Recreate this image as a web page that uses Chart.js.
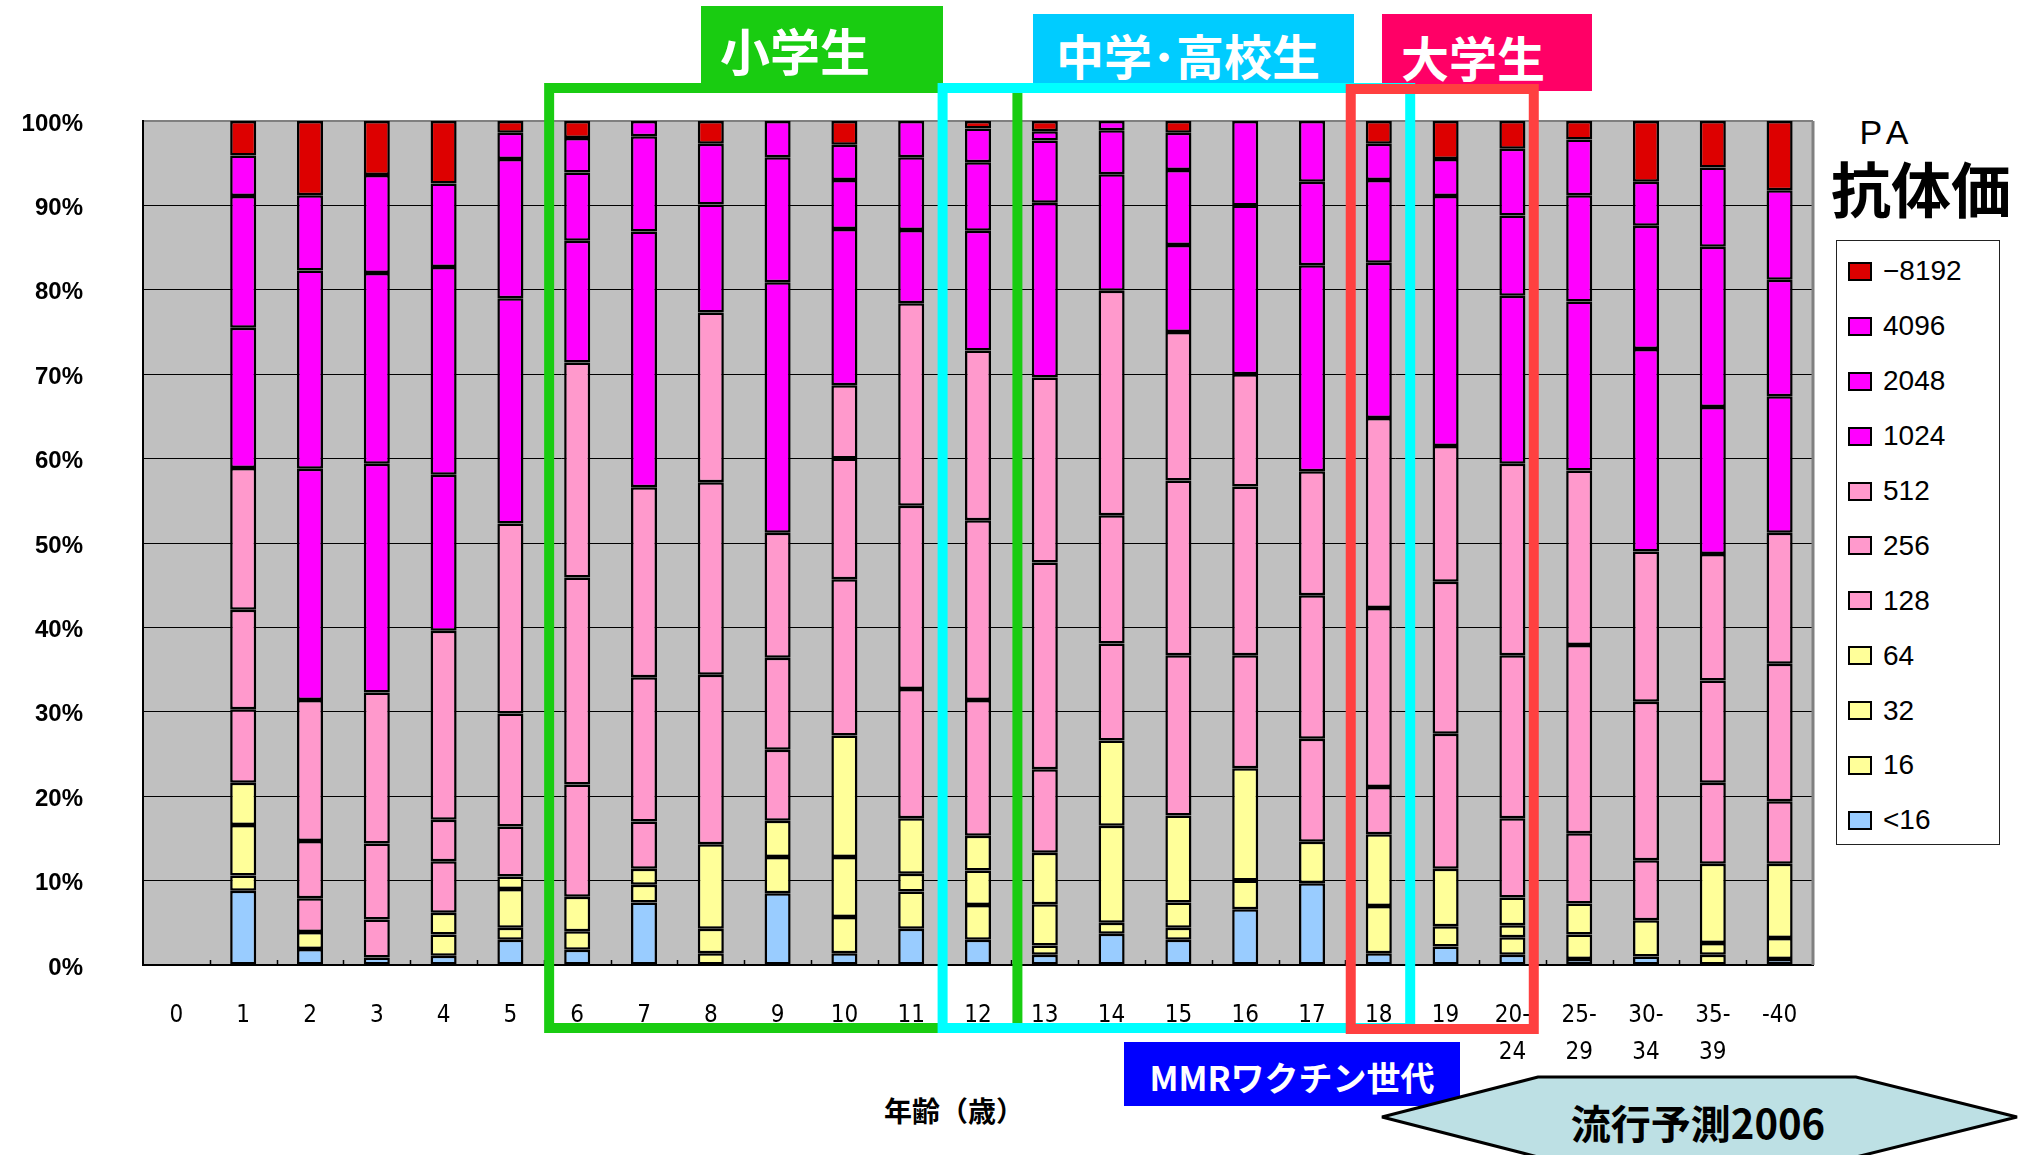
<!DOCTYPE html>
<html lang="ja">
<head>
<meta charset="utf-8">
<title>PA抗体価 年齢別分布 2006</title>
<script src="https://cdn.jsdelivr.net/npm/chart.js@4.4.1/dist/chart.umd.min.js"></script>
<style>
  html, body { margin: 0; padding: 0; background: #fff; }
  #wrap { position: relative; width: 2035px; height: 1155px; overflow: hidden;
          font-family: "Noto Sans CJK JP", "Noto Sans", sans-serif; }
  #chart { position: absolute; left: 0; top: 0; z-index: 2; }
  .tag { position: absolute; z-index: 1; color: #fff; font-weight: 700; white-space: nowrap;
         display: flex; align-items: center; box-sizing: border-box; }
  #tagElem { left: 701px; top: 6px; width: 242px; height: 80px; background: #19CC11;
             font-size: 50px; padding-left: 19px; padding-top: 6px; }
  #tagMid  { left: 1033px; top: 14px; width: 321px; height: 72px; background: #00CCFF;
             font-size: 48px; padding-left: 23px; padding-top: 8px; }
  #tagUni  { left: 1382px; top: 14px; width: 210px; height: 77px; background: #FF0066;
             font-size: 48px; padding-left: 19px; padding-top: 6px; }
  #tagMMR  { left: 1124px; top: 1042px; width: 336px; height: 64px; background: #0000FF;
             font-size: 34px; justify-content: center; padding-top: 4px; }
  #hexShape { position: absolute; left: 0; top: 0; z-index: 1; }
  #hexText { position: absolute; z-index: 1; left: 1540px; width: 316px; top: 1096px; height: 52px;
             display: flex; align-items: center; justify-content: center;
             font-size: 40px; font-weight: 700; color: #000; white-space: nowrap; }
  #xTitle { position: absolute; z-index: 1; left: 864px; width: 180px; top: 1092px; height: 36px;
            display: flex; align-items: center; justify-content: center;
            font-size: 28px; font-weight: 700; color: #000; white-space: nowrap; }
  #paLabel { position: absolute; z-index: 1; left: 1840px; width: 94px; top: 112px; height: 40px;
             text-align: center; font-family: "Liberation Sans", Arial, sans-serif;
             font-size: 34px; letter-spacing: 6px; line-height: 40px; color: #000; }
  #paTitle { position: absolute; z-index: 1; left: 1821px; width: 200px; top: 150px; height: 74px;
             text-align: center; font-size: 60px; font-weight: 700; line-height: 74px; color: #000; }
  #legend { position: absolute; z-index: 1; left: 1836px; top: 240px; width: 164px; height: 605px;
            border: 1px solid #222; box-sizing: border-box; padding-top: 3px; background: #fff; }
  .lg-row { height: 54.9px; display: flex; align-items: center; }
  .lg-box { width: 24px; height: 19px; margin-left: 11px; margin-right: 11px;
            border: 2px solid #000; box-sizing: border-box; }
  .lg-text { font-family: "Liberation Sans", Arial, sans-serif; font-size: 28px; color: #000; }
</style>
</head>
<body>
<div id="wrap">
  <div class="tag" id="tagElem">小学生</div>
  <div class="tag" id="tagMid">中学･高校生</div>
  <div class="tag" id="tagUni">大学生</div>
  <div class="tag" id="tagMMR">MMRワクチン世代</div>
  <svg id="hexShape" width="2035" height="1155">
    <polygon points="1382,1117 1538,1077 1856,1077 2017,1117 1856,1157 1538,1157"
             fill="#BDE0E4" stroke="#000" stroke-width="3"/>
  </svg>
  <div id="hexText">流行予測2006</div>
  <div id="xTitle">年齢（歳）</div>
  <div id="paLabel">PA</div>
  <div id="paTitle">抗体価</div>
  <div id="legend"></div>
  <canvas id="chart" width="2035" height="1155"></canvas>
</div>
<script>
// Age groups (years)
const ageGroups = ['0', '1', '2', '3', '4', '5', '6', '7', '8', '9', '10', '11', '12', '13', '14',
  '15', '16', '17', '18', '19', ['20-', '24'], ['25-', '29'], ['30-', '34'], ['35-', '39'], '-40'];

// Share of each PA antibody titre in every age group (%)
const titreLt16 = [0, 8.8, 1.9, 0.9, 1.1, 3.0, 1.8, 7.4, 0, 8.5, 1.4, 4.3, 3.0, 1.2, 3.7, 3.0, 6.6, 9.7, 1.4, 2.2, 1.2, 0.7, 1.0, 0, 0.7];
const titre16   = [0, 1.8, 2.0, 0, 2.5, 1.4, 2.2, 2.1, 1.4, 4.3, 4.3, 4.4, 4.1, 1.1, 1.3, 1.4, 3.4, 4.9, 5.6, 2.4, 2.1, 2.9, 4.3, 1.2, 2.5];
const titre32   = [0, 6.0, 0, 0, 2.6, 4.6, 4.1, 1.9, 2.9, 4.3, 7.1, 2.1, 4.1, 4.9, 11.5, 3.0, 13.3, 0, 8.5, 6.8, 1.4, 3.7, 0, 1.4, 8.8];
const titre64   = [0, 5.0, 0, 0, 0, 1.5, 0, 0, 10.0, 0, 14.4, 6.6, 4.1, 6.1, 10.1, 10.3, 0, 0, 0, 0, 3.3, 0, 0, 9.4, 0];
const titre128  = [0, 8.7, 4.0, 4.5, 6.1, 5.9, 13.3, 5.6, 20.1, 8.4, 18.5, 15.3, 16.1, 9.9, 11.5, 19.0, 13.4, 12.2, 5.6, 16.0, 9.4, 8.3, 7.1, 9.6, 7.4];
const titre256  = [0, 11.8, 6.8, 9.0, 4.9, 13.4, 24.5, 17.1, 22.8, 10.9, 14.3, 21.7, 21.3, 24.5, 15.2, 20.7, 20.0, 17.0, 21.2, 18.0, 19.3, 22.3, 18.8, 12.1, 16.3];
const titre512  = [0, 16.8, 16.7, 17.9, 22.4, 22.5, 25.5, 22.5, 20.1, 14.8, 8.7, 24.0, 20.1, 21.9, 26.6, 17.6, 13.3, 14.7, 22.5, 16.1, 22.7, 20.7, 17.8, 15.0, 15.5];
const titre1024 = [0, 16.6, 27.4, 27.1, 18.5, 26.7, 14.4, 30.3, 12.8, 29.7, 18.5, 8.7, 14.2, 20.7, 13.8, 10.3, 20.0, 24.4, 18.4, 29.6, 19.9, 20.0, 24.0, 17.4, 16.2];
const titre2048 = [0, 15.6, 23.5, 22.6, 24.6, 16.5, 8.1, 11.3, 7.2, 14.8, 5.8, 8.6, 8.1, 7.4, 5.2, 8.9, 10.0, 9.9, 9.8, 4.4, 9.5, 12.6, 14.6, 19.0, 13.8];
const titre4096 = [0, 4.8, 8.9, 11.6, 9.9, 3.1, 4.1, 1.8, 0, 4.3, 4.2, 4.3, 4.0, 1.1, 1.1, 4.4, 0, 7.2, 4.3, 0, 7.9, 6.6, 5.2, 9.4, 10.6];
const titre8192 = [0, 4.1, 8.8, 6.4, 7.4, 1.4, 2.0, 0, 2.7, 0, 2.8, 0, 0.9, 1.2, 0, 1.4, 0, 0, 2.7, 4.5, 3.3, 2.2, 7.2, 5.5, 8.2];

const titreNames = ['<16', '16', '32', '64', '128', '256', '512', '1024', '2048', '4096', '−8192'];
const yTicks = [0, 10, 20, 30, 40, 50, 60, 70, 80, 90, 100];

const BLUE = '#99CCFF', YELLOW = '#FFFF99', PINK = '#FF99CC', MAGENTA = '#FF00FF', RED = '#DD0000';
const seriesValues = [titreLt16, titre16, titre32, titre64, titre128, titre256, titre512,
  titre1024, titre2048, titre4096, titre8192];
const seriesColors = [BLUE, YELLOW, YELLOW, YELLOW, PINK, PINK, PINK, MAGENTA, MAGENTA, MAGENTA, RED];

const datasets = seriesValues.map((values, i) => ({
  label: titreNames[i],
  data: values,
  backgroundColor: seriesColors[i],
  borderColor: '#000',
  borderWidth: 2.5,
  borderSkipped: false,
  categoryPercentage: 1,
  barPercentage: 0.39
}));

// School-stage frames, in category units along the age axis
const stageFrames = [
  { from: 5.58, to: 12.59, top: 88, bottom: 1028, color: '#19CC11' },
  { from: 11.47, to: 18.47, top: 88, bottom: 1028, color: '#00FFFF' },
  { from: 17.58, to: 20.32, top: 89, bottom: 1029, color: '#FF4040' }
];

const plotDecor = {
  id: 'plotDecor',
  beforeDraw(chart) {
    const { ctx, chartArea: a } = chart;
    ctx.save();
    ctx.fillStyle = '#C0C0C0';
    ctx.fillRect(a.left, a.top, a.right - a.left, a.bottom - a.top);
    ctx.restore();
  },
  afterDatasetsDraw(chart) {
    const { ctx, chartArea: a, scales: { x } } = chart;
    ctx.save();
    // right frame edge
    ctx.strokeStyle = '#808080';
    ctx.lineWidth = 3;
    ctx.beginPath();
    ctx.moveTo(a.right, a.top);
    ctx.lineTo(a.right, a.bottom);
    ctx.stroke();
    // inner tick marks between age groups
    ctx.strokeStyle = '#000';
    ctx.lineWidth = 1.5;
    for (let i = 0; i < ageGroups.length - 1; i++) {
      const px = Math.round(x.getPixelForValue(i + 0.5)) + 0.5;
      ctx.beginPath();
      ctx.moveTo(px, a.bottom);
      ctx.lineTo(px, a.bottom - 5);
      ctx.stroke();
    }
    ctx.restore();
  },
  afterDraw(chart) {
    const { ctx, scales: { x } } = chart;
    ctx.save();
    ctx.lineWidth = 10;
    ctx.lineJoin = 'miter';
    stageFrames.forEach(f => {
      const x0 = x.getPixelForValue(f.from);
      const x1 = x.getPixelForValue(f.to);
      ctx.strokeStyle = f.color;
      ctx.strokeRect(x0, f.top, x1 - x0, f.bottom - f.top);
    });
    ctx.restore();
  }
};

const chart = new Chart(document.getElementById('chart'), {
  type: 'bar',
  data: { labels: ageGroups, datasets },
  options: {
    responsive: false,
    maintainAspectRatio: false,
    devicePixelRatio: 1,
    animation: false,
    events: [],
    layout: { padding: { top: 121, right: 222, bottom: 0, left: 0 } },
    plugins: { legend: { display: false }, tooltip: { enabled: false } },
    scales: {
      x: {
        stacked: true,
        grid: { display: false, drawTicks: false },
        border: { display: true, color: '#000', width: 2 },
        ticks: {
          color: '#000',
          padding: 32,
          maxRotation: 0,
          autoSkip: false,
          font: { family: '"Liberation Sans Narrow", "DejaVu Sans Condensed", "Liberation Sans", sans-serif',
                  size: 24, lineHeight: 1.54 }
        },
        afterFit(scale) { scale.height = 190; }
      },
      y: {
        stacked: true,
        min: 0,
        max: 100,
        afterBuildTicks(scale) { scale.ticks = yTicks.map(v => ({ value: v })); },
        grid: {
          drawTicks: false,
          color: c => (c.tick && c.tick.value === 100 ? '#808080' : '#000'),
          lineWidth: c => (c.tick && c.tick.value === 100 ? 2 : 1)
        },
        border: { display: true, color: '#000', width: 2 },
        ticks: {
          color: '#000',
          padding: 60,
          labelOffset: 3,
          callback: v => v + '%',
          font: { family: '"Liberation Sans", Arial, sans-serif', size: 24, weight: 'bold' }
        },
        afterFit(scale) { scale.width = 143; }
      }
    }
  },
  plugins: [plotDecor]
});

// Legend box, top entry = highest titre
const legendEl = document.getElementById('legend');
chart.data.datasets.slice().reverse().forEach(ds => {
  const row = document.createElement('div');
  row.className = 'lg-row';
  const box = document.createElement('span');
  box.className = 'lg-box';
  box.style.background = ds.backgroundColor;
  const txt = document.createElement('span');
  txt.className = 'lg-text';
  txt.textContent = ds.label;
  row.appendChild(box);
  row.appendChild(txt);
  legendEl.appendChild(row);
});
</script>
</body>
</html>
